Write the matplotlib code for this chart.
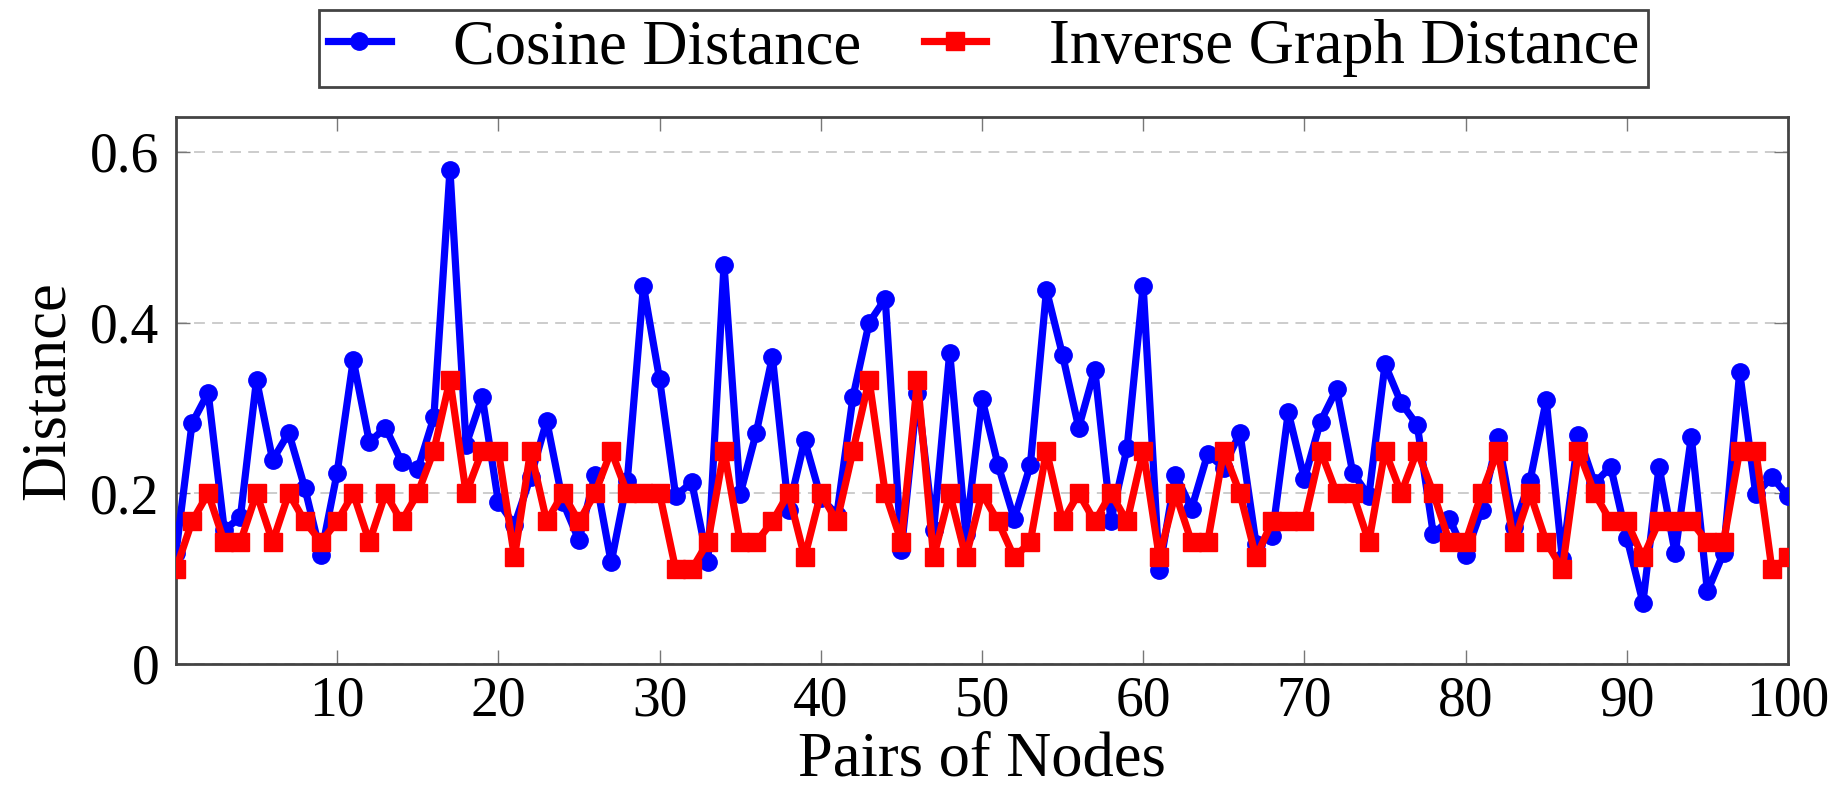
import matplotlib.pyplot as plt

plt.rcParams['font.family'] = ['Liberation Serif', 'DejaVu Serif']

# pair index 0..100
pairs = list(range(101))

cosine_dist = [
    0.130, 0.282, 0.318, 0.157, 0.172, 0.333, 0.239, 0.271, 0.206, 0.128,
    0.224, 0.356, 0.260, 0.277, 0.237, 0.228, 0.289, 0.579, 0.257, 0.313,
    0.190, 0.163, 0.219, 0.285, 0.190, 0.145, 0.222, 0.119, 0.215, 0.443,
    0.334, 0.197, 0.213, 0.119, 0.468, 0.199, 0.271, 0.360, 0.181, 0.262,
    0.195, 0.175, 0.313, 0.400, 0.428, 0.134, 0.318, 0.157, 0.365, 0.152,
    0.311, 0.233, 0.170, 0.233, 0.438, 0.362, 0.277, 0.345, 0.168, 0.253,
    0.443, 0.110, 0.222, 0.182, 0.246, 0.230, 0.271, 0.141, 0.150, 0.295,
    0.217, 0.284, 0.322, 0.224, 0.197, 0.351, 0.306, 0.280, 0.152, 0.170,
    0.128, 0.181, 0.266, 0.161, 0.215, 0.309, 0.123, 0.268, 0.212, 0.231,
    0.148, 0.072, 0.231, 0.130, 0.266, 0.085, 0.130, 0.342, 0.199, 0.219,
    0.197,
]

inv_graph_dist = [
    0.111, 0.167, 0.200, 0.143, 0.143, 0.200, 0.143, 0.200, 0.167, 0.143,
    0.167, 0.200, 0.143, 0.200, 0.167, 0.200, 0.250, 0.333, 0.200, 0.250,
    0.250, 0.125, 0.250, 0.167, 0.200, 0.167, 0.200, 0.250, 0.200, 0.200,
    0.200, 0.111, 0.111, 0.143, 0.250, 0.143, 0.143, 0.167, 0.200, 0.125,
    0.200, 0.167, 0.250, 0.333, 0.200, 0.143, 0.333, 0.125, 0.200, 0.125,
    0.200, 0.167, 0.125, 0.143, 0.250, 0.167, 0.200, 0.167, 0.200, 0.167,
    0.250, 0.125, 0.200, 0.143, 0.143, 0.250, 0.200, 0.125, 0.167, 0.167,
    0.167, 0.250, 0.200, 0.200, 0.143, 0.250, 0.200, 0.250, 0.200, 0.143,
    0.143, 0.200, 0.250, 0.143, 0.200, 0.143, 0.111, 0.250, 0.200, 0.167,
    0.167, 0.125, 0.167, 0.167, 0.167, 0.143, 0.143, 0.250, 0.250, 0.111,
    0.125,
]

x_ticks = [10, 20, 30, 40, 50, 60, 70, 80, 90, 100]
y_ticks = [0, 0.2, 0.4, 0.6]
y_tick_labels = ['0', '0.2', '0.4', '0.6']

fig = plt.figure(figsize=(18.42, 7.90), dpi=100)
ax = fig.add_axes([0.0955, 0.1595, 0.8752, 0.6924])

ax.plot(pairs, cosine_dist, color='#0000ff', lw=5.2, marker='o', ms=12.5,
        mec='#0000ff', label='Cosine Distance', zorder=3)
ax.plot(pairs, inv_graph_dist, color='#ff0000', lw=5.2, marker='s', ms=12.5,
        mec='#ff0000', label='Inverse Graph Distance', zorder=4)

ax.set_xlim(0, 100)
ax.set_ylim(0, 0.641)
ax.set_xticks(x_ticks)
ax.set_yticks(y_ticks)
ax.set_yticklabels(y_tick_labels)

ax.yaxis.grid(True, color='#c8c8c8', lw=1.3, linestyle=(0, (6, 4)))
ax.set_axisbelow(True)

ax.tick_params(axis='both', direction='in', length=10, width=1,
               color='#777777', labelsize=40, top=True, right=True)
ax.tick_params(axis='x', pad=8)
ax.tick_params(axis='y', pad=12)
for s in ax.spines.values():
    s.set_color('#444444')
    s.set_linewidth(2)

ax.set_xlabel('Pairs of Nodes', fontsize=45, labelpad=3)
ax.set_ylabel('Distance', fontsize=45, labelpad=9)

leg = ax.legend(loc='center', bbox_to_anchor=(0.534, 0.939),
                bbox_transform=fig.transFigure, ncol=2, fontsize=45,
                frameon=True, fancybox=False, framealpha=1,
                edgecolor='#444444', handlelength=1.0, handletextpad=1.0,
                columnspacing=1.0, borderpad=0.15, borderaxespad=0)
leg.get_frame().set_linewidth(2)

fig.savefig('out.png', dpi=100)
